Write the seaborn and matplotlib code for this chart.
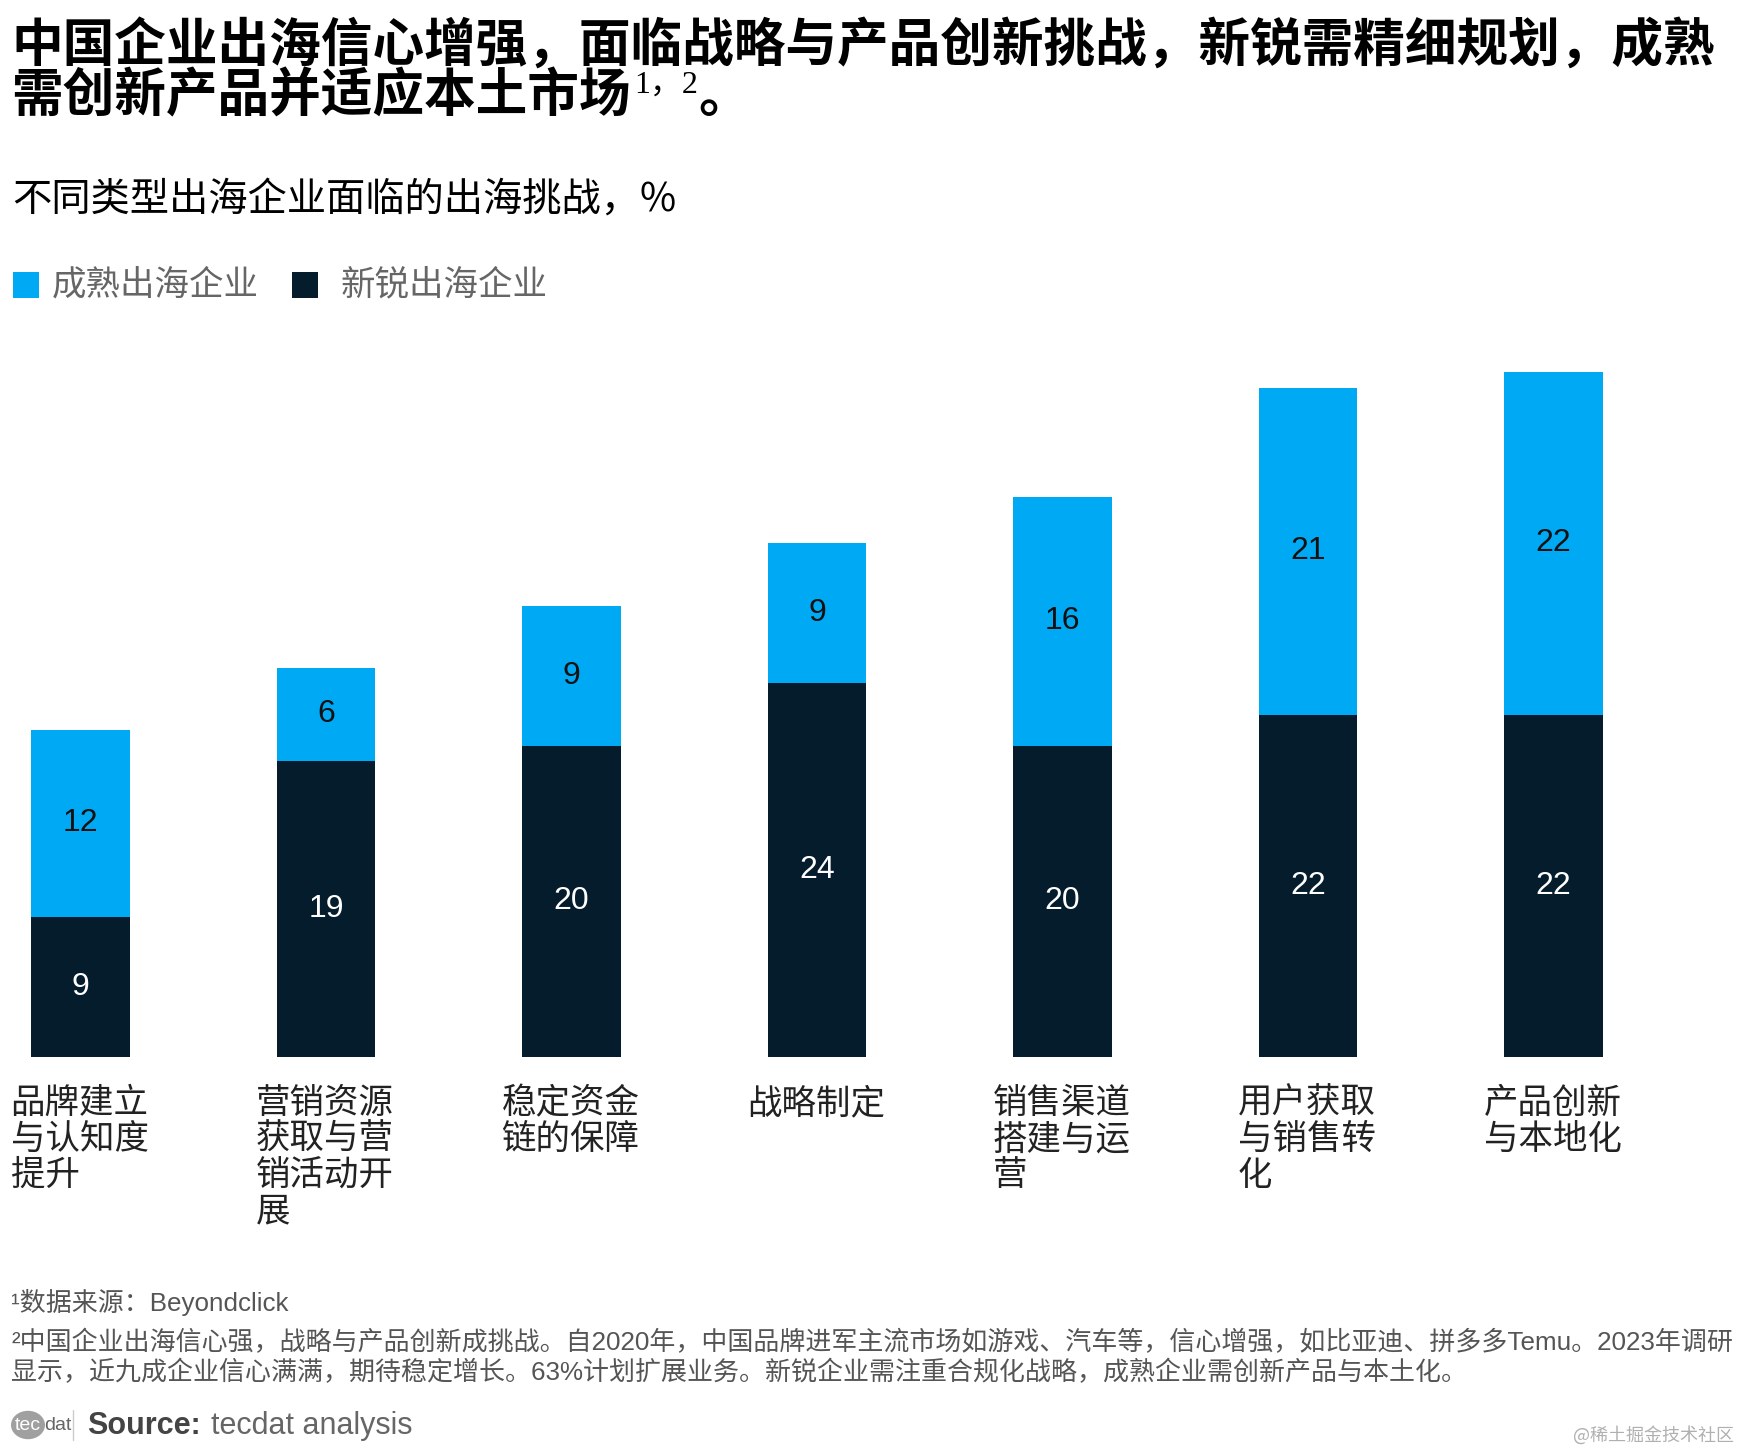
import matplotlib
matplotlib.use("Agg")
import matplotlib.pyplot as plt
import seaborn as sns
import pandas as pd
from matplotlib.patches import Rectangle, Circle
from matplotlib.lines import Line2D
from matplotlib.transforms import blended_transform_factory

# data
categories = ["品牌建立与认知度提升", "营销资源获取与营销活动开展", "稳定资金链的保障", "战略制定",
              "销售渠道搭建与运营", "用户获取与销售转化", "产品创新与本地化"]
mature = [12, 6, 9, 9, 16, 21, 22]        # 成熟出海企业
emerging = [9, 19, 20, 24, 20, 22, 22]    # 新锐出海企业
series_names = ["成熟出海企业", "新锐出海企业"]

title_lines = ["中国企业出海信心增强，面临战略与产品创新挑战，新锐需精细规划，成熟",
               "需创新产品并适应本土市场"]
subtitle = "不同类型出海企业面临的出海挑战，%"
note_1 = "¹数据来源：Beyondclick"
note_2 = ["²中国企业出海信心强，战略与产品创新成挑战。自2020年，中国品牌进军主流市场如游戏、汽车等，信心增强，如比亚迪、拼多多Temu。2023年调研",
          "显示，近九成企业信心满满，期待稳定增长。63%计划扩展业务。新锐企业需注重合规化战略，成熟企业需创新产品与本土化。"]

LIGHT = "#00A9F4"
DARK = "#051C2C"
W, H = 1741, 1454

sns.set_theme(style="white")
CJK = ["Noto Sans CJK SC", "DejaVu Sans"]
LAT = ["Liberation Sans", "Noto Sans CJK SC", "DejaVu Sans"]
SERIF = ["Liberation Serif", "Noto Sans CJK SC", "DejaVu Sans"]
plt.rcParams["font.family"] = CJK


def fx(x):
    return x / W


def fy(y):
    return 1 - y / H


fig = plt.figure(figsize=(W / 100, H / 100), dpi=100)
fig.patch.set_facecolor("white")

# chart area: baseline at y=1057px, 44 at y=372px
ax = fig.add_axes([0, fy(1057), 1, (1057 - 372) / H])
df = pd.DataFrame({"cat": categories, "mature": mature, "emerging": emerging})
df["total"] = df["mature"] + df["emerging"]

bar_w = 0.403
sns.barplot(data=df, x="cat", y="total", color=LIGHT, saturation=1, width=bar_w,
            errorbar=None, linewidth=0, ax=ax)
sns.barplot(data=df, x="cat", y="emerging", color=DARK, saturation=1, width=bar_w,
            errorbar=None, linewidth=0, ax=ax)
ax.set_xlim(-80.5 / 245.5, (W - 80.5) / 245.5)
ax.set_ylim(0, 44)
ax.axis("off")

for i, (m, e) in enumerate(zip(mature, emerging)):
    ax.text(i, e / 2, str(e), ha="center", va="center", color="white",
            fontsize=23, family=LAT)
    ax.text(i, e + m / 2, str(m), ha="center", va="center", color="#111111",
            fontsize=23, family=LAT)

# category labels, four characters per line, left aligned under each bar
trans = blended_transform_factory(ax.transData, fig.transFigure)
for i, c in enumerate(categories):
    wrapped = "\n".join(c[j:j + 4] for j in range(0, len(c), 4))
    ax.text(i - 0.285, fy(1086), wrapped, transform=trans, ha="left", va="top",
            fontsize=24.8, color="#222222", linespacing=1.04)

# title with superscript
fig.text(fx(11), fy(45), title_lines[0], fontsize=37.2, weight="bold", va="center", color="black")
t2 = fig.text(fx(11), fy(96), title_lines[1], fontsize=37.2, weight="bold", va="center", color="black")
renderer = fig.canvas.get_renderer()
bb = t2.get_window_extent(renderer)
sup = fig.text(bb.x1 / W + 4 / W, fy(85), "1，2", fontsize=23, va="center", color="black",
               family=SERIF)
bb2 = sup.get_window_extent(renderer)
fig.text(bb2.x1 / W, fy(96), "。", fontsize=37.2, weight="bold", va="center", color="black")

fig.text(fx(12), fy(200), subtitle, fontsize=28.3, va="center", color="black")

# legend
for x0, xt, name, col in [(13, 52, series_names[0], LIGHT), (292, 341, series_names[1], DARK)]:
    fig.add_artist(Rectangle((fx(x0), fy(298)), 26 / W, 26 / H, transform=fig.transFigure,
                             facecolor=col, edgecolor="none"))
    fig.text(fx(xt), fy(285), name, fontsize=24.8, va="center", color="#666666")

# footnotes
fig.text(fx(11), fy(1303), note_1, fontsize=18.7, va="center", color="#555555", family=LAT)
fig.text(fx(11), fy(1342), note_2[0], fontsize=18.7, va="center", color="#555555", family=LAT)
fig.text(fx(11), fy(1372), note_2[1], fontsize=18.7, va="center", color="#555555", family=LAT)

# source line with logo
fig.add_artist(Circle((fx(28), fy(1425)), 17 / W, transform=fig.transFigure,
                      facecolor="#a0a0a0", edgecolor="none"))
fig.text(fx(28), fy(1425), "tec", fontsize=14, ha="center", va="center", color="white", family=LAT)
fig.text(fx(44), fy(1425), "dat", fontsize=14, ha="left", va="center", color="#666666", family=LAT)
fig.add_artist(Line2D([fx(73), fx(73)], [fy(1410), fy(1440)], transform=fig.transFigure,
                      color="#cccccc", lw=1))
s1 = fig.text(fx(87), fy(1426), "Source:", fontsize=22, weight="bold", va="center",
              color="#444444", family=LAT)
bb3 = s1.get_window_extent(renderer)
fig.text(bb3.x1 / W + 10 / W, fy(1426), "tecdat analysis", fontsize=22, va="center",
         color="#666666", family=LAT)

fig.text(fx(1734), fy(1435), "@稀土掘金技术社区", fontsize=13, ha="right", va="center",
         color="#b0b0b0")

fig.savefig("out.png", dpi=100, facecolor="white")
